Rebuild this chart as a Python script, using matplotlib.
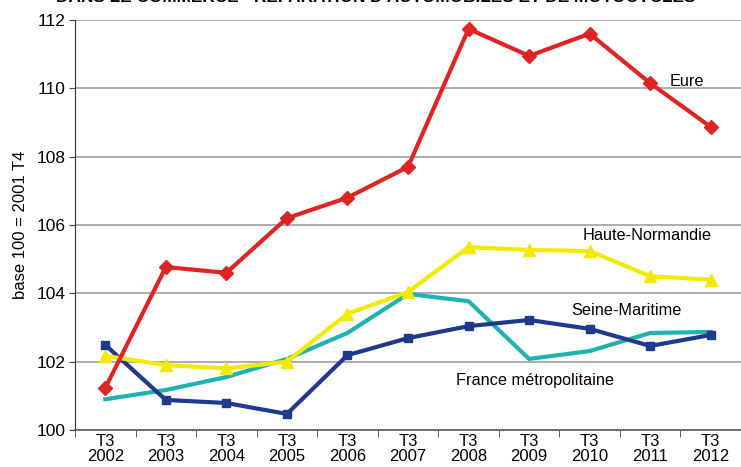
import matplotlib.pyplot as plt
import numpy as np

plt.rcParams['font.family'] = ['Liberation Sans', 'DejaVu Sans']

# Données (base 100 = 2001 T4)
years = ["2002", "2003", "2004", "2005", "2006", "2007", "2008", "2009", "2010", "2011", "2012"]
eure = [101.23, 104.77, 104.6, 106.2, 106.8, 107.7, 111.74, 110.95, 111.6, 110.15, 108.87]
haute_normandie = [102.17, 101.9, 101.8, 102.0, 103.4, 104.04, 105.35, 105.27, 105.24, 104.5, 104.4]
seine_maritime = [102.49, 100.88, 100.79, 100.47, 102.19, 102.69, 103.04, 103.22, 102.96, 102.46, 102.78]
france = [100.9, 101.17, 101.55, 102.08, 102.84, 103.98, 103.77, 102.08, 102.31, 102.84, 102.87]

labels = ["T3\n" + y for y in years]
x = np.arange(len(years))

fig = plt.figure(figsize=(7.41, 4.67), dpi=100)
ax = fig.add_axes([75 / 741, 1 - 430 / 467, 666 / 741, 410 / 467])

# grille horizontale
for v in range(102, 113, 2):
    ax.axhline(v, color="#a0a0a0", lw=1.2, zorder=0)

ax.plot(x, france, color="#1fb2b2", lw=3, zorder=2)
ax.plot(x, seine_maritime, color="#1f3a8c", lw=3, marker="s", ms=6, zorder=3)
ax.plot(x, haute_normandie, color="#f2ea00", lw=3, marker="^", ms=8, zorder=3)
ax.plot(x, eure, color="#e02424", lw=3, marker="D", ms=7, zorder=4)

ax.set_xlim(-0.5, len(years) - 0.5)
ax.set_ylim(100, 112)
ax.set_yticks(range(100, 113, 2))
ax.set_xticks(x)
ax.set_xticklabels(labels, fontsize=12, linespacing=1.0)
ax.set_xticks(np.arange(-0.5, len(years), 1), minor=True)
ax.tick_params(axis="x", which="major", length=0, pad=3)
ax.tick_params(axis="x", which="minor", length=5, color="#444444")
ax.tick_params(axis="y", labelsize=12.5, length=4, color="#444444", pad=3)

for s in ["top", "right"]:
    ax.spines[s].set_visible(False)
ax.spines["left"].set_color("#333333")
ax.spines["bottom"].set_color("#555555")
ax.spines["bottom"].set_linewidth(1.2)

ax.set_ylabel("base 100 = 2001 T4", fontsize=12, labelpad=6)

# étiquettes des séries
ax.text(9.6, 110.2, "Eure", fontsize=11.7, ha="center", va="center")
ax.text(8.95, 105.7, "Haute-Normandie", fontsize=11.7, ha="center", va="center")
ax.text(8.6, 103.5, "Seine-Maritime", fontsize=11.7, ha="center", va="center")
ax.text(7.1, 101.45, "France métropolitaine", fontsize=11.7, ha="center", va="center")

# titre coupé en haut de l'image, comme sur l'original
fig.text(376 / 741, 1 - 5 / 467, "DANS LE COMMERCE - RÉPARATION D'AUTOMOBILES ET DE MOTOCYCLES",
         fontsize=12.4, fontweight="bold", ha="center", va="bottom")

fig.savefig("out.png", dpi=100)
